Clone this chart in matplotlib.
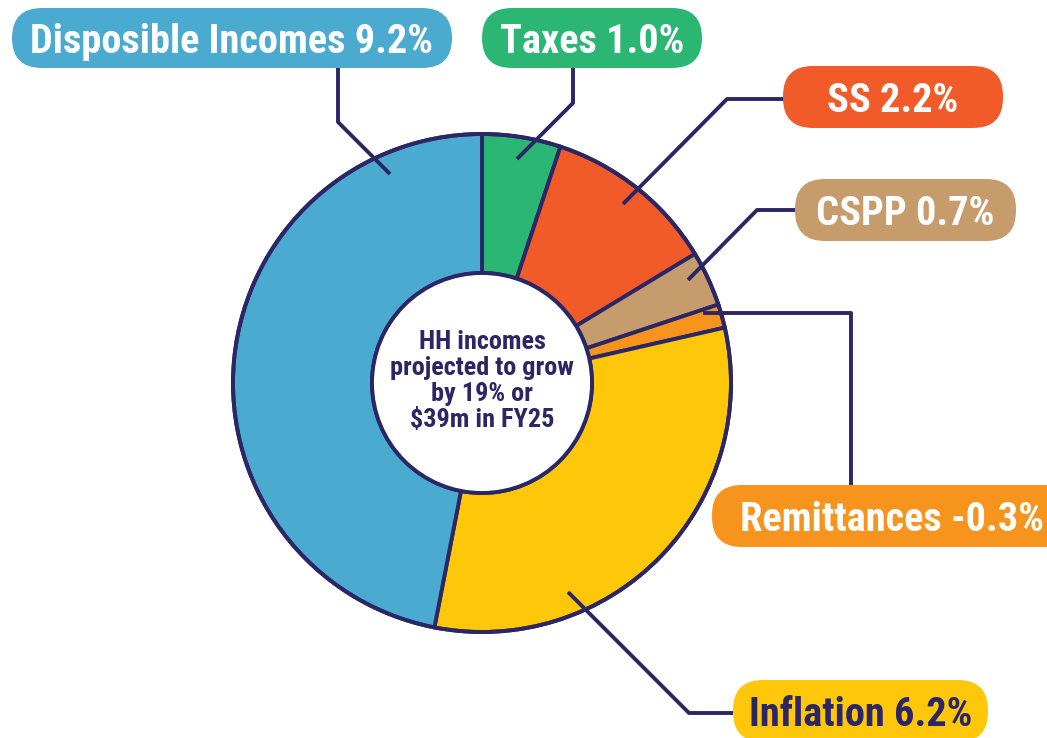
import matplotlib
matplotlib.use('Agg')
import matplotlib.pyplot as plt
from matplotlib import font_manager
from matplotlib.patches import FancyBboxPatch, Circle

# data
categories = ['Taxes', 'SS', 'CSPP', 'Remittances', 'Inflation', 'Disposible Incomes']
values = [1.0, 2.2, 0.7, -0.3, 6.2, 9.2]
colors = ['#2BB673', '#F15A29', '#C69C6D', '#F7941D', '#FFC709', '#4BAAD0']
centre_text = 'HH incomes\nprojected to grow\nby 19% or\n$39m in FY25'

navy = '#2B2767'
W, H = 1047, 738

names = {f.name for f in font_manager.fontManager.ttflist}
font = 'Liberation Sans'
for cand in ['Liberation Sans Narrow', 'Roboto Condensed', 'Roboto']:
    if cand in names:
        font = cand
        break

fig = plt.figure(figsize=(W / 100, H / 100), dpi=100)
ax = fig.add_axes([0, 0, 1, 1])
ax.set_xlim(0, W)
ax.set_ylim(0, H)
ax.set_aspect('equal')
ax.axis('off')


def Y(p):
    # picture row -> data y
    return H - p


cx, cy, r_out, r_in = 482, 383, 249, 110

ax.pie([abs(v) for v in values], colors=colors, startangle=90, counterclock=False,
       center=(cx, Y(cy)), radius=r_out,
       wedgeprops=dict(width=r_out - r_in, edgecolor=navy, linewidth=2.8))
ax.add_patch(Circle((cx, Y(cy)), r_out, fill=False, edgecolor=navy, lw=2.8, zorder=3))
ax.add_patch(Circle((cx, Y(cy)), r_in, facecolor='white', edgecolor=navy, lw=2.8, zorder=3))
ax.set_xlim(0, W)
ax.set_ylim(0, H)

# label boxes: x0, x1, y0, y1 in picture pixels
boxes = {
    'Disposible Incomes': (12, 452, 8, 68),
    'Taxes': (482, 702, 8, 68),
    'SS': (783, 1003, 66, 128),
    'CSPP': (795, 1016, 179, 241),
    'Remittances': (712, 1090, 485, 547),
    'Inflation': (733, 988, 680, 742),
}
leaders = {
    'Disposible Incomes': [(338, 68), (338, 122), (390, 174)],
    'Taxes': [(573, 68), (573, 103), (517, 159)],
    'SS': [(783, 99), (727, 99), (623, 204)],
    'CSPP': [(795, 210), (757, 210), (688, 280)],
    'Remittances': [(851, 485), (851, 313), (703, 313)],
    'Inflation': [(733, 713), (689, 713), (568, 592)],
}

for name in categories:
    xs = [p[0] for p in leaders[name]]
    ys = [Y(p[1]) for p in leaders[name]]
    ax.plot(xs, ys, color=navy, lw=2.8, solid_capstyle='butt', zorder=4)

renderer = fig.canvas.get_renderer()

# fit label font size on the longest label
probe = ax.text(0, 0, 'Disposible Incomes 9.2%', fontsize=28, fontweight='bold', family=font)
w = probe.get_window_extent(renderer).width
fs = 28 * 404 / w
probe.remove()

for name, v, c in zip(categories, values, colors):
    x0, x1, y0, y1 = boxes[name]
    ax.add_patch(FancyBboxPatch((x0, Y(y1)), x1 - x0, y1 - y0,
                                boxstyle='round,pad=0,rounding_size=30',
                                facecolor=c, edgecolor='none', zorder=5, clip_on=True))
    tc = navy if name == 'Inflation' else 'white'
    label = f'{name} {v:.1f}%'
    base = Y((y0 + y1) / 2) - fs * 0.5
    if name == 'Inflation':
        base = Y(711) - fs * 0.5
    if name == 'Remittances':
        ax.text(740, base, label, ha='left', va='baseline', fontsize=fs,
                fontweight='bold', color=tc, family=font, zorder=6)
    else:
        ax.text((x0 + x1) / 2, base, label, ha='center', va='baseline', fontsize=fs,
                fontweight='bold', color=tc, family=font, zorder=6)

# centre text
t = ax.text(cx, Y(381), centre_text, ha='center', va='center', fontsize=17,
            fontweight='bold', color=navy, family=font, linespacing=1.1, zorder=6)
lw_probe = ax.text(0, 0, 'projected to grow', fontsize=17, fontweight='bold', family=font)
w2 = lw_probe.get_window_extent(renderer).width
lw_probe.remove()
t.set_fontsize(17 * 185 / w2)

fig.savefig('out.png', dpi=100, facecolor='white')
